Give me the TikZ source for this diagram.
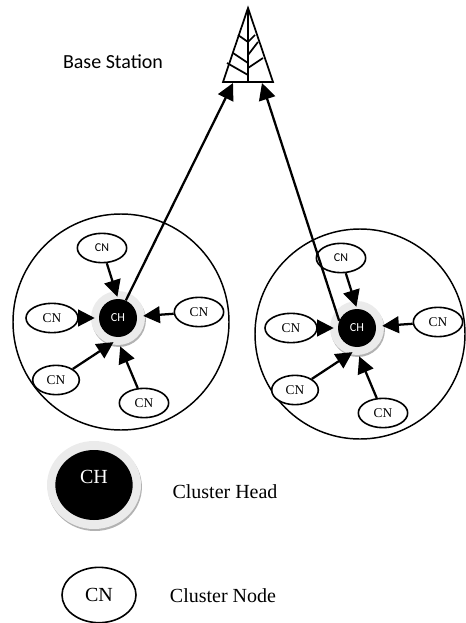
\documentclass[tikz,border=0pt]{standalone}
\usepackage{fontspec}
\setmainfont{Liberation Serif}
\newfontfamily\carlito{Carlito}
\usetikzlibrary{arrows.meta,shapes.geometric,shadows,positioning}

\begin{document}
\begin{tikzpicture}[x=0.75pt,y=-0.75pt,on grid,
		cluster/.style={draw, circle, line width=1.1pt},
		cnnode/.style={draw, ellipse, fill=white, line width=1.2pt, inner sep=0pt,
			minimum width=37pt, minimum height=22pt, font=\fontsize{10}{12}\selectfont},
		cntop/.style={cnnode, font=\carlito\fontsize{9}{11}\selectfont},
		chring/.style={circle, fill=black!8, minimum size=40.5pt, inner sep=0pt,
			drop shadow={shadow xshift=0.7pt, shadow yshift=-1.5pt, fill=black!30, opacity=1}},
		chnode/.style={circle, fill=black, text=white, minimum size=28.5pt, inner sep=0pt,
			font=\carlito\fontsize{9.2}{11}\selectfont},
		toch/.style={-{Triangle[length=12.5pt,width=12.5pt]}, line width=1.7pt},
		tower/.style={line width=1.3pt},
		caption/.style={font=\fontsize{15}{18}\selectfont}
	]
	\newcommand\dyt{52.5pt}
	\newcommand\dxt{12pt}
	\newcommand\dxl{49.5pt}
	\newcommand\dxr{60.75pt}
	\newcommand\dyr{4.5pt}
	\newcommand\dll{46.5pt}
	\newcommand\dyb{63.75pt}
	\newcommand\dxb{19.5pt}
	\useasboundingbox (0,0) rectangle (465,623);

	% clusters
	\node [cluster, minimum size=162pt] (circa) at (121,322) {};
	\node [cluster, minimum size=157.5pt] (circb) at (360,334) {};

	% left cluster
	\node [chring] (ringa) at (118,318) {};
	\node [chnode] (cha) at (118,318) {CH};
	\node [cntop, above left=\dyt and \dxt of cha] (cna1) {CN};
	\node [cnnode, left=\dxl of cha, minimum width=39pt] (cna2) {CN};
	\node [cnnode, above right=\dyr and \dxr of cha] (cna3) {CN};
	\node [cnnode, below left=\dll and \dll of cha, minimum width=35pt] (cna4) {CN};
	\node [cnnode, below right=\dyb and \dxb of cha] (cna5) {CN};

	% right cluster
	\node [chring] (ringb) at (357,328) {};
	\node [chnode] (chb) at (357,328) {CH};
	\node [cntop, above left=\dyt and \dxt of chb] (cnb1) {CN};
	\node [cnnode, left=\dxl of chb, minimum width=39pt] (cnb2) {CN};
	\node [cnnode, above right=\dyr and \dxr of chb] (cnb3) {CN};
	\node [cnnode, below left=\dll and \dll of chb, minimum width=35pt] (cnb4) {CN};
	\node [cnnode, below right=\dyb and \dxb of chb] (cnb5) {CN};

	% base station
	\coordinate (apex) at (248,8);
	\coordinate (basel) at (223,82);
	\coordinate (baser) at (273,82);
	\coordinate (basem) at (248,82);
	\coordinate (tipa) at (233,83);
	\coordinate (tipb) at (262,83);
	\draw [tower] (apex) -- (basel) -- (baser) -- cycle;
	\draw [tower] (apex) -- (basem);
	\draw [tower] (238,35) -- (248,42) -- (255,35);
	\draw [tower] (233,53) -- (248,63);
	\draw [tower] (227,63) -- (248,75);
	\draw [tower] (248,55) -- (258,42);
	\draw [tower] (248,68) -- (263,58);
	\node [font=\carlito\fontsize{15}{18}\selectfont] (bslabel) at (113,62) {Base Station};

	% arrows
	\draw [toch, shorten >=1.5pt] (cna1) -- (cha.90);
	\draw [toch, shorten >=3pt] (cna2) -- (cha.180);
	\draw [toch, shorten >=4.5pt] (cna3) -- (cha.5);
	\draw [toch, shorten >=7pt] (cna4) -- (cha.-80);
	\draw [toch, shorten >=7.5pt] (cna5) -- (cha.-95);
	\draw [toch, shorten >=1.5pt] (cnb1) -- (chb.90);
	\draw [toch, shorten >=3pt] (cnb2) -- (chb.180);
	\draw [toch, shorten >=4.5pt] (cnb3) -- (chb.5);
	\draw [toch, shorten >=7pt] (cnb4) -- (chb.-80);
	\draw [toch, shorten >=7.5pt] (cnb5) -- (chb.-95);
	\draw [toch] (cha.66) -- (tipa);
	\draw [toch] (chb.158) -- (tipb);

	% legend
	\node [ellipse, fill=black!8, minimum width=70.5pt, minimum height=66pt, inner sep=0pt,
		drop shadow={shadow xshift=0.7pt, shadow yshift=-1.5pt, fill=black!30, opacity=1}] (ringl) at (94,485) {};
	\node [ellipse, fill=black, text=white, minimum width=58pt, minimum height=52.5pt, inner sep=0pt,
		text depth=12pt, caption] (chl) at (94,485) {CH};
	\node [caption] (chtext) at (225,492) {Cluster Head};
	\node [cnnode, minimum width=55.5pt, minimum height=41.5pt, caption] (cnl) at (99,595) {CN};
	\node [caption] (cntext) at (223,596) {Cluster Node};
\end{tikzpicture}
\end{document}
